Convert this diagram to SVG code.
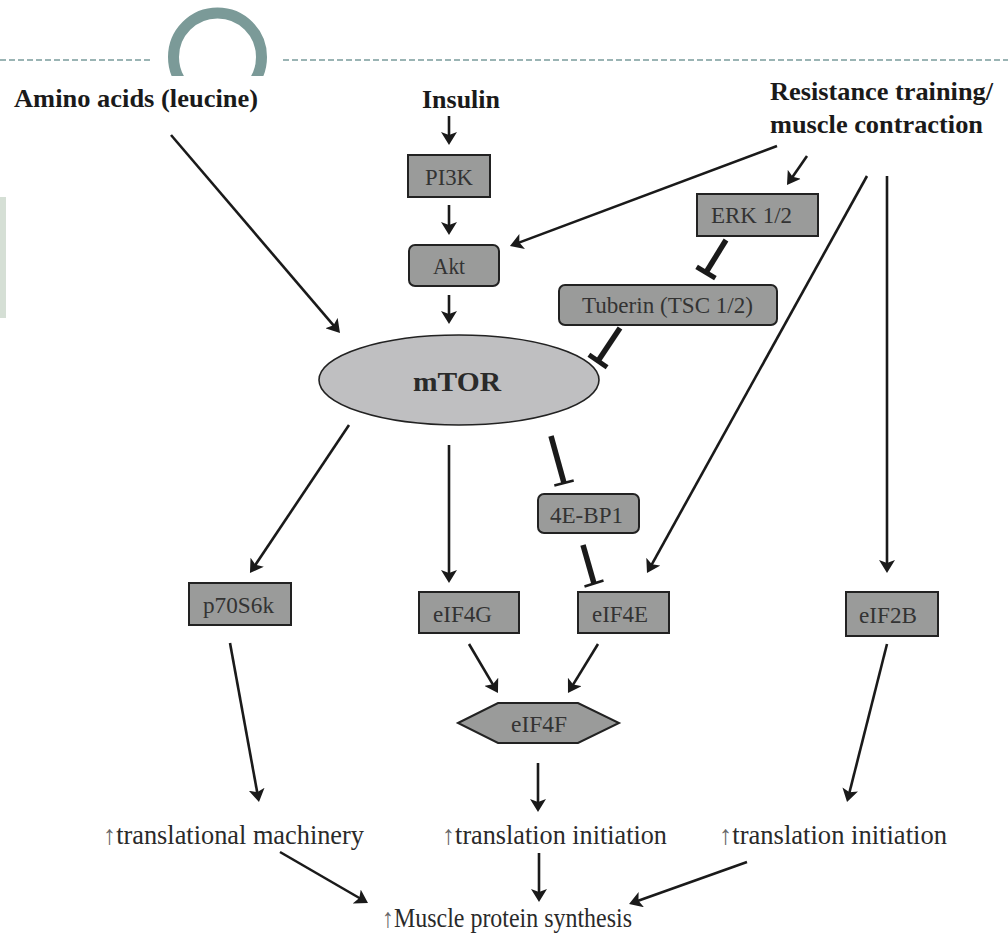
<svg xmlns="http://www.w3.org/2000/svg" width="1008" height="940" viewBox="0 0 1008 940">
<defs>
<style>
text{font-family:"Liberation Serif","DejaVu Serif","Noto Serif",serif}
.hdr{font-weight:bold;font-size:26px;fill:#1a1a1a}
.lbl{font-size:22.5px;fill:#333;text-anchor:middle}
.out{font-size:27px;fill:#2a2a2a}
.up{fill:#666}
.box{fill:#9a9b9a;stroke:#222;stroke-width:2}
.ell{fill:#bfbfc1;stroke:#222;stroke-width:1.6}
.arr{stroke:#1a1a1a;stroke-width:2.6;fill:none;marker-end:url(#ah)}
.inh{stroke:#1a1a1a;stroke-width:5.5;fill:none}
.bar{stroke:#1a1a1a;stroke-width:5;fill:none}
.barT{stroke:#1a1a1a;stroke-width:2.6;fill:none}
</style>
<marker id="ah" viewBox="0 0 13 16" refX="7" refY="8" markerWidth="13" markerHeight="16" markerUnits="userSpaceOnUse" orient="auto">
<path d="M0,0 L13,8 L0,16 L3,8 z" fill="#1a1a1a"/>
</marker>
<clipPath id="arcclip"><rect x="150" y="0" width="140" height="76"/></clipPath>
</defs>
<rect x="0" y="0" width="1008" height="940" fill="#fff"/>
<g id="decor">
<line x1="0" y1="60" x2="153" y2="60" stroke="#7a9c9c" stroke-width="1.5" stroke-dasharray="6,3"/>
<line x1="283" y1="60" x2="1008" y2="60" stroke="#7a9c9c" stroke-width="1.5" stroke-dasharray="6,3"/>
<circle cx="217.5" cy="57" r="44" fill="none" stroke="#7b9a98" stroke-width="11" clip-path="url(#arcclip)"/>
<rect x="0" y="197" width="6" height="121" fill="#d5dfd5"/>
</g>
<g id="amino"><text class="hdr" x="14" y="107" textLength="244" lengthAdjust="spacingAndGlyphs">Amino acids (leucine)</text></g>
<g id="insulin"><text class="hdr" x="461" y="108" text-anchor="middle" textLength="78" lengthAdjust="spacingAndGlyphs">Insulin</text></g>
<g id="resistance"><text class="hdr" x="770" y="100" textLength="223" lengthAdjust="spacingAndGlyphs">Resistance training/</text><text class="hdr" x="770" y="133" textLength="213" lengthAdjust="spacingAndGlyphs">muscle contraction</text></g>
<g id="pi3k"><rect class="box" x="408" y="155" width="82" height="42"/><text class="lbl" x="449" y="185" textLength="48" lengthAdjust="spacingAndGlyphs">PI3K</text></g>
<g id="akt"><rect class="box" x="409" y="245" width="90" height="41" rx="6"/><text class="lbl" x="449" y="274" textLength="32" lengthAdjust="spacingAndGlyphs">Akt</text></g>
<g id="erk"><rect class="box" x="697" y="194" width="121" height="42"/><text class="lbl" x="751.5" y="223" textLength="81" lengthAdjust="spacingAndGlyphs">ERK 1/2</text></g>
<g id="tuberin"><rect class="box" x="559" y="285" width="218" height="40" rx="6"/><text class="lbl" x="667.5" y="313" textLength="171" lengthAdjust="spacingAndGlyphs">Tuberin (TSC 1/2)</text></g>
<g id="mtor"><ellipse class="ell" cx="459" cy="380" rx="140" ry="45"/><text x="457" y="391" text-anchor="middle" textLength="88" lengthAdjust="spacingAndGlyphs" style="font-weight:bold;font-size:28px;fill:#2a2a2a">mTOR</text></g>
<g id="ebp1"><rect class="box" x="538" y="494" width="101" height="39" rx="6"/><text class="lbl" x="586.5" y="523" textLength="73" lengthAdjust="spacingAndGlyphs">4E-BP1</text></g>
<g id="p70"><rect class="box" x="189" y="583" width="102" height="42"/><text class="lbl" x="238.5" y="613" textLength="71" lengthAdjust="spacingAndGlyphs">p70S6k</text></g>
<g id="eif4g"><rect class="box" x="419" y="592" width="100" height="41"/><text class="lbl" x="462.5" y="622" textLength="59" lengthAdjust="spacingAndGlyphs">eIF4G</text></g>
<g id="eif4e"><rect class="box" x="578" y="592" width="91" height="41"/><text class="lbl" x="620" y="622" textLength="56" lengthAdjust="spacingAndGlyphs">eIF4E</text></g>
<g id="eif2b"><rect class="box" x="846" y="592" width="92" height="44"/><text class="lbl" x="888" y="623" textLength="58" lengthAdjust="spacingAndGlyphs">eIF2B</text></g>
<g id="eif4f"><polygon class="box" points="458,723 498,703 578,703 619,723 578,743 498,743"/><text class="lbl" x="539" y="732" textLength="56" lengthAdjust="spacingAndGlyphs">eIF4F</text></g>
<g id="out1"><text class="out" x="103" y="844" textLength="261" lengthAdjust="spacingAndGlyphs"><tspan class="up">↑</tspan>translational machinery</text></g>
<g id="out2"><text class="out" x="442" y="844" textLength="225" lengthAdjust="spacingAndGlyphs"><tspan class="up">↑</tspan>translation initiation</text></g>
<g id="out3"><text class="out" x="719" y="844" textLength="228" lengthAdjust="spacingAndGlyphs"><tspan class="up">↑</tspan>translation initiation</text></g>
<g id="mps"><text class="out" x="382" y="927" textLength="250" lengthAdjust="spacingAndGlyphs"><tspan class="up">↑</tspan>Muscle protein synthesis</text></g>
<g id="connectors">
<line class="arr" x1="449" y1="116" x2="449" y2="139"/>
<line class="arr" x1="449" y1="205" x2="449" y2="229"/>
<line class="arr" x1="449" y1="295" x2="449" y2="318"/>
<line class="arr" x1="171" y1="135" x2="336.1" y2="328.4"/>
<line class="arr" x1="777" y1="146" x2="515.6" y2="243.9"/>
<line class="arr" x1="807" y1="156" x2="790.4" y2="180.1"/>
<line class="arr" x1="867" y1="176" x2="649.9" y2="567.8"/>
<line class="arr" x1="887" y1="176" x2="887" y2="567"/>
<line class="arr" x1="349" y1="425" x2="253.3" y2="568"/>
<line class="arr" x1="449" y1="445" x2="449" y2="577"/>
<line class="arr" x1="230" y1="643" x2="257.9" y2="796.1"/>
<line class="arr" x1="469" y1="644" x2="494.9" y2="687.8"/>
<line class="arr" x1="598" y1="644" x2="571.1" y2="687.9"/>
<line class="arr" x1="887" y1="644" x2="848.5" y2="796.2"/>
<line class="arr" x1="538" y1="763" x2="538" y2="806"/>
<line class="arr" x1="280" y1="852" x2="362.8" y2="900"/>
<line class="arr" x1="539" y1="853" x2="539" y2="896"/>
<line class="arr" x1="747" y1="862" x2="634.7" y2="902"/>
<line class="inh" x1="726" y1="240" x2="706" y2="272.5"/>
<line class="bar" x1="696.6" y1="266.8" x2="715.4" y2="278.2"/>
<line class="inh" x1="620" y1="328" x2="598" y2="361"/>
<line class="bar" x1="588.9" y1="354.8" x2="607.1" y2="367.2"/>
<line class="inh" x1="551" y1="436" x2="564" y2="483"/>
<line class="barT" x1="554.3" y1="485.5" x2="573.7" y2="480.5"/>
<line class="inh" x1="583" y1="545" x2="594" y2="583.5"/>
<line class="barT" x1="584.5" y1="586.6" x2="603.5" y2="580.4"/>
</g>
</svg>
